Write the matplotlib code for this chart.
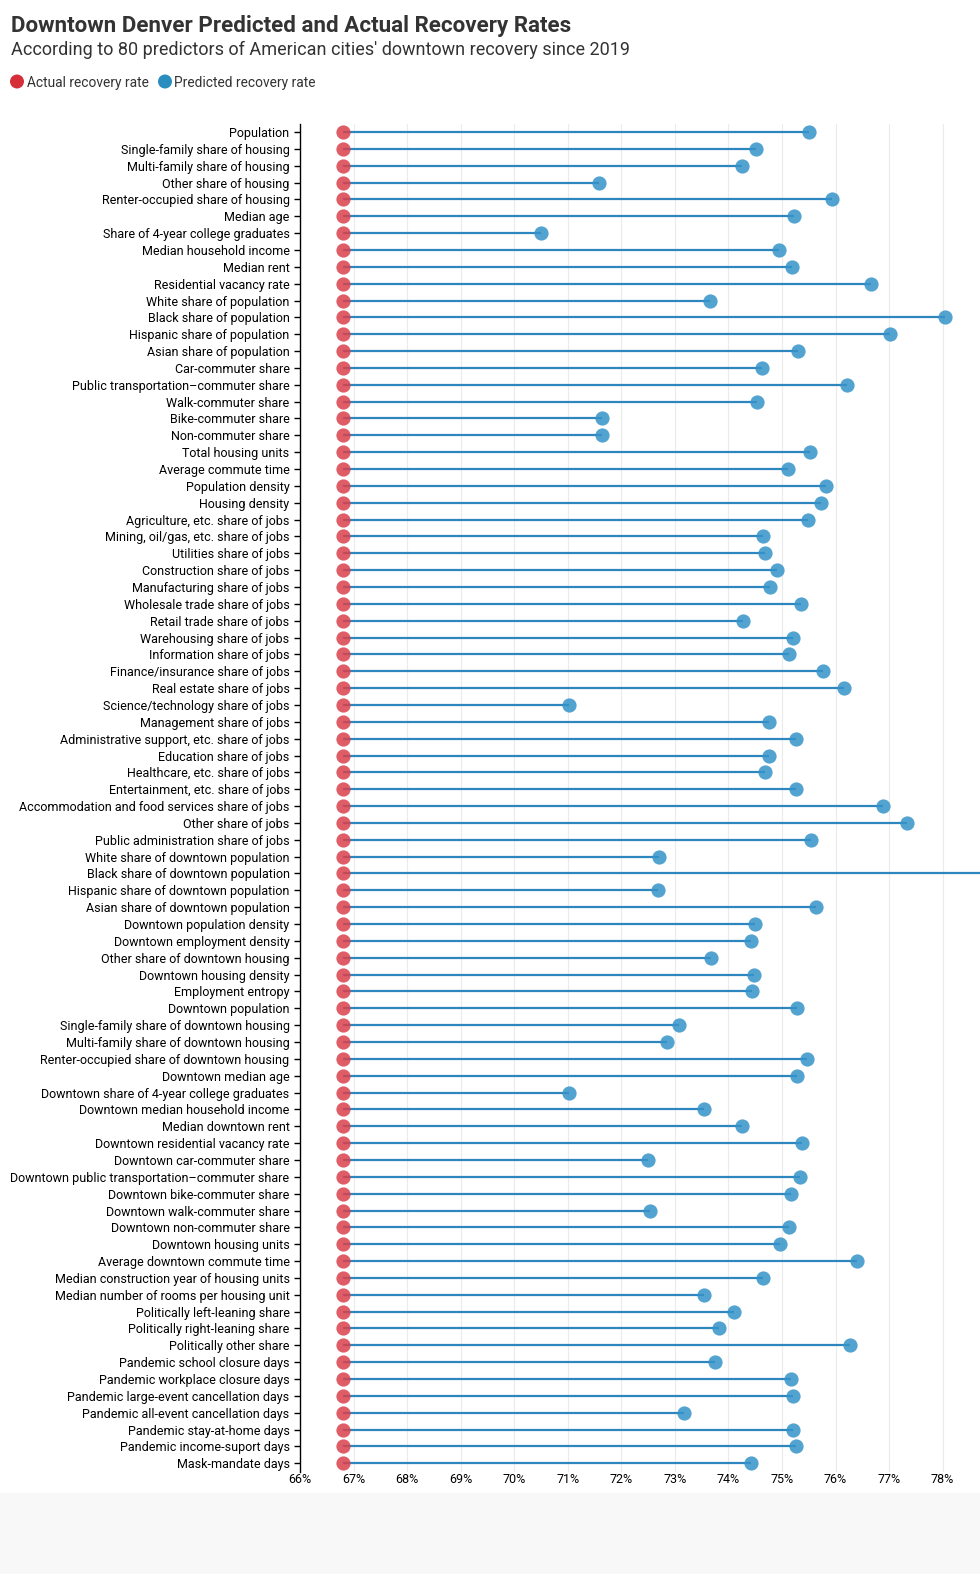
import matplotlib

matplotlib.use("Agg")
import matplotlib.pyplot as plt
from matplotlib.patches import Circle, Rectangle

plt.rcParams["font.family"] = ["Roboto", "DejaVu Sans"]

# predictors, top to bottom
predictors = [
    "Population", "Single-family share of housing", "Multi-family share of housing",
    "Other share of housing", "Renter-occupied share of housing", "Median age",
    "Share of 4-year college graduates", "Median household income", "Median rent",
    "Residential vacancy rate", "White share of population", "Black share of population",
    "Hispanic share of population", "Asian share of population", "Car-commuter share",
    "Public transportation\u2013commuter share", "Walk-commuter share", "Bike-commuter share",
    "Non-commuter share", "Total housing units", "Average commute time",
    "Population density", "Housing density", "Agriculture, etc. share of jobs",
    "Mining, oil/gas, etc. share of jobs", "Utilities share of jobs",
    "Construction share of jobs", "Manufacturing share of jobs",
    "Wholesale trade share of jobs", "Retail trade share of jobs",
    "Warehousing share of jobs", "Information share of jobs",
    "Finance/insurance share of jobs", "Real estate share of jobs",
    "Science/technology share of jobs", "Management share of jobs",
    "Administrative support, etc. share of jobs", "Education share of jobs",
    "Healthcare, etc. share of jobs", "Entertainment, etc. share of jobs",
    "Accommodation and food services share of jobs", "Other share of jobs",
    "Public administration share of jobs", "White share of downtown population",
    "Black share of downtown population", "Hispanic share of downtown population",
    "Asian share of downtown population", "Downtown population density",
    "Downtown employment density", "Other share of downtown housing",
    "Downtown housing density", "Employment entropy", "Downtown population",
    "Single-family share of downtown housing", "Multi-family share of downtown housing",
    "Renter-occupied share of downtown housing", "Downtown median age",
    "Downtown share of 4-year college graduates", "Downtown median household income",
    "Median downtown rent", "Downtown residential vacancy rate",
    "Downtown car-commuter share", "Downtown public transportation\u2013commuter share",
    "Downtown bike-commuter share", "Downtown walk-commuter share",
    "Downtown non-commuter share", "Downtown housing units",
    "Average downtown commute time", "Median construction year of housing units",
    "Median number of rooms per housing unit", "Politically left-leaning share",
    "Politically right-leaning share", "Politically other share",
    "Pandemic school closure days", "Pandemic workplace closure days",
    "Pandemic large-event cancellation days", "Pandemic all-event cancellation days",
    "Pandemic stay-at-home days", "Pandemic income-suport days", "Mask-mandate days",
]

predicted = [
    75.50, 74.51, 74.25, 71.58, 75.94, 75.23, 70.50, 74.94, 75.18, 76.66,
    73.66, 78.04, 77.01, 75.30, 74.62, 76.22, 74.53, 71.64, 71.64, 75.52,
    75.11, 75.82, 75.72, 75.48, 74.65, 74.68, 74.90, 74.78, 75.35, 74.28,
    75.21, 75.13, 75.77, 76.16, 71.02, 74.76, 75.26, 74.75, 74.69, 75.26,
    76.88, 77.33, 75.54, 72.70, 79.80, 72.69, 75.64, 74.50, 74.43, 73.67,
    74.48, 74.45, 75.29, 73.08, 72.85, 75.47, 75.29, 71.02, 73.54, 74.26,
    75.38, 72.50, 75.34, 75.17, 72.53, 75.14, 74.97, 76.41, 74.65, 73.54,
    74.10, 73.83, 76.27, 73.75, 75.17, 75.20, 73.17, 75.21, 75.26, 74.43,
]

actual_rate = 66.8
x_ticks = list(range(66, 79))
x_tick_labels = [f"{t}%" for t in x_ticks]

RED = "#d9414b"
BLUE = "#3593c9"
LINE = "#2e86bf"
W, H = 980, 1574

fig = plt.figure(figsize=(W / 100, H / 100), dpi=100)
fig.patch.set_facecolor("white")

# grey footer band
fig.add_artist(Rectangle((0, 0), 1, (H - 1492.5) / H, transform=fig.transFigure,
                         facecolor="#f8f8f8", edgecolor="none", zorder=0))

top_px, bottom_px = 123.6, 1471.7
ax = fig.add_axes([300 / W, 1 - bottom_px / H, (W - 300) / W, (bottom_px - top_px) / H])

n = len(predictors)
rows = list(range(n))
ax.hlines(rows, actual_rate, predicted, color=LINE, linewidth=1.6, zorder=2)
ax.scatter([actual_rate] * n, rows, s=105, color=RED, alpha=0.85, linewidths=0, zorder=3)
ax.scatter(predicted, rows, s=105, color=BLUE, alpha=0.85, linewidths=0, zorder=3)

ax.set_xlim(66, 66 + (W - 300) / 53.55)
ax.set_ylim(n - 0.5, -0.5)
ax.set_xticks(x_ticks, x_tick_labels)
ax.set_yticks(rows, predictors)
for t in x_ticks[1:]:
    ax.axvline(t, color="#ebebeb", linewidth=0.8, zorder=1)

for side in ["top", "right", "bottom"]:
    ax.spines[side].set_visible(False)
ax.spines["left"].set_color("black")
ax.spines["left"].set_linewidth(1.0)
ax.tick_params(axis="y", length=4.5, width=1, pad=3, labelsize=9.0, colors="black")
ax.tick_params(axis="x", length=0, pad=1, labelsize=9.0, colors="black")
ax.patch.set_alpha(0)

fig.text(11 / W, 1 - 26 / H, "Downtown Denver Predicted and Actual Recovery Rates",
         fontsize=16.1, fontweight="bold", color="#333333", va="center", ha="left")
fig.text(11 / W, 1 - 49.5 / H,
         "According to 80 predictors of American cities' downtown recovery since 2019",
         fontsize=13.0, color="#333333", va="center", ha="left")

# legend
legend_y = (H - 81.5) / 100
for cx, color, tx, label in [(17, "#d62f3a", 27, "Actual recovery rate"),
                             (165, "#2b8cbe", 174, "Predicted recovery rate")]:
    fig.add_artist(Circle((cx / 100, legend_y), 0.07, transform=fig.dpi_scale_trans,
                          facecolor=color, edgecolor="none"))
    fig.text(tx / W, 1 - 82.5 / H, label, fontsize=9.95, color="#333333",
             va="center", ha="left")

fig.savefig("out.png", dpi=100)
